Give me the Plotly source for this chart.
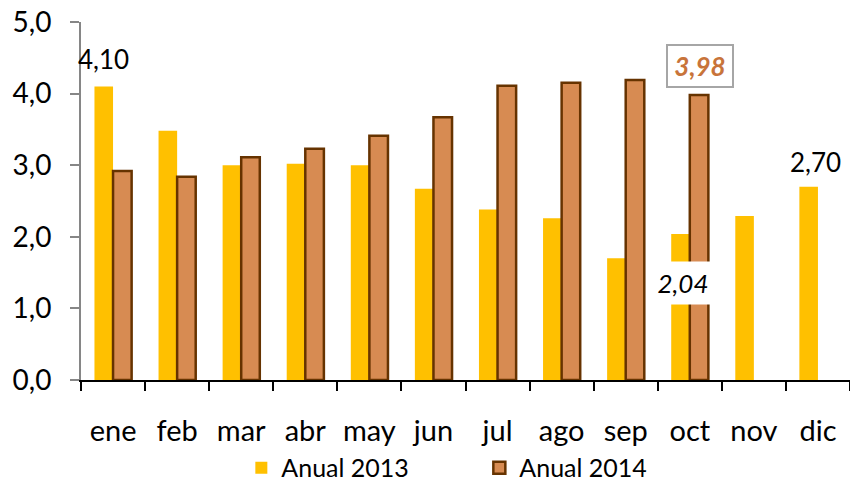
import plotly.graph_objects as go

months = ["ene", "feb", "mar", "abr", "may", "jun", "jul", "ago", "sep", "oct", "nov", "dic"]
anual_2013 = [4.10, 3.48, 3.00, 3.02, 3.00, 2.67, 2.38, 2.26, 1.70, 2.04, 2.29, 2.70]
anual_2014 = [2.92, 2.84, 3.11, 3.23, 3.41, 3.67, 4.11, 4.15, 4.19, 3.98, None, None]
name_2013 = "Anual 2013"
name_2014 = "Anual 2014"

FONT = "Lato, 'Open Sans', sans-serif"

fig = go.Figure()
fig.add_trace(go.Bar(x=months, y=anual_2013, name=name_2013,
                     marker=dict(color="#FFC000", line=dict(width=0))))
fig.add_trace(go.Bar(x=months, y=anual_2014, name=name_2014,
                     marker=dict(color="#D78B52", line=dict(color="#663300", width=2.5))))

# labels
fig.add_annotation(x=months[0], y=anual_2013[0], text="4,10", showarrow=False,
                   xshift=-10, yshift=27, yanchor="middle",
                   font=dict(family=FONT, size=26, color="black"))
fig.add_annotation(x=months[11], y=anual_2013[11], text="2,70", showarrow=False,
                   xshift=-2, yshift=25, yanchor="middle",
                   font=dict(family=FONT, size=26, color="black"))
fig.add_annotation(x=months[9], y=anual_2013[9], text="<i>2,04</i>", showarrow=False,
                   xshift=-7, yshift=-49, yanchor="middle", bgcolor="white",
                   width=56, height=30, borderpad=6,
                   font=dict(family=FONT, size=26, color="black"))
fig.add_annotation(x=months[9], y=anual_2014[9], text="<b><i>3,98</i></b>", showarrow=False,
                   xshift=10, yshift=29, yanchor="middle", bgcolor="white",
                   bordercolor="#A6A6A6", borderwidth=2, borderpad=6,
                   width=52, height=28,
                   font=dict(family=FONT, size=26, color="#C8743A"))

fig.update_layout(
    width=850, height=482,
    margin=dict(l=81, r=0, t=22, b=102, autoexpand=False),
    paper_bgcolor="white", plot_bgcolor="white",
    barmode="group", bargap=0.42, bargroupgap=0,
    separators=",.",
    font=dict(family=FONT, color="black"),
    showlegend=True,
    legend=dict(orientation="h", x=0.518, xanchor="center", y=-0.2458, yanchor="middle",
                bgcolor="rgba(0,0,0,0)",
                font=dict(family=FONT, size=25, color="black"), entrywidth=193,
                itemwidth=30),
)
fig.update_yaxes(range=[0, 5], dtick=1, tickformat=".1f", showgrid=False, zeroline=False,
                 showline=True, linecolor="#868686", linewidth=2,
                 ticks="outside", ticklen=9, tickwidth=2, tickcolor="#868686",
                 ticklabelstandoff=13, automargin=False, ticklabeloverflow="allow",
                 tickfont=dict(family=FONT, size=28, color="black"))
fig.update_xaxes(range=[-0.5, len(months) - 0.5], showgrid=False, showline=True,
                 linecolor="black", linewidth=2,
                 ticks="outside", ticklen=9, tickwidth=2, tickcolor="black",
                 tickson="boundaries", ticklabelstandoff=24, automargin=False,
                 tickfont=dict(family=FONT, size=29, color="black"))

fig.write_html("out.html", config={"displayModeBar": False},
               post_script="document.body.style.margin='0';")
